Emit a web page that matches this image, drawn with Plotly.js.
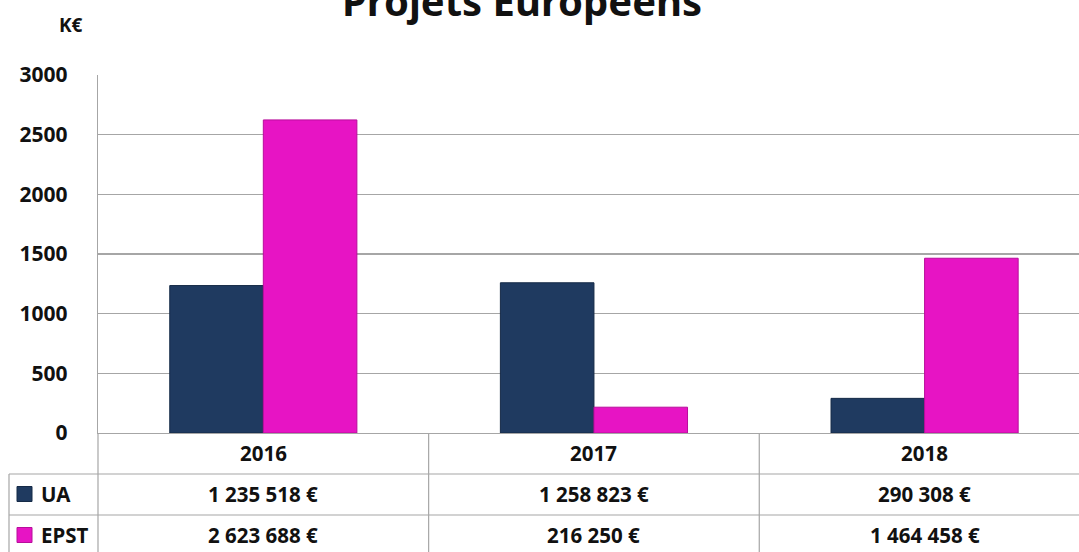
<!DOCTYPE html>
<html>
<head>
<meta charset="utf-8">
<script src="https://cdn.plot.ly/plotly-3.0.1.min.js"></script>
<style>html,body{margin:0;padding:0;background:#fff;}#chart{width:1079px;height:552px;}</style>
</head>
<body>
<div id="chart"></div>
<script>
const categories = ["2016", "2017", "2018"];
const seriesNames = ["UA", "EPST"];
const uaEuros = [1235518, 1258823, 290308];
const epstEuros = [2623688, 216250, 1464458];
const yTicks = [0, 500, 1000, 1500, 2000, 2500, 3000];
const titleText = "Projets Européens";
const unitLabel = "K€";

const colors = ["#1f3a60", "#e714c4"];
const lineColors = ["#152a47", "#b80e9b"];
const FONT = "Noto Sans, Open Sans, sans-serif";
const gridCol = "#a6a6a6";
const TXT = 20.5;

// plot geometry (pixels)
const L = 98, R = 1079, T = 75, B = 433, W = 1079, H = 552;
const px2x = p => (p - L) / (R - L);
const py2y = p => (B - p) / (B - T);

function fmtEuro(v) {
  return String(v).replace(/\B(?=(\d{3})+(?!\d))/g, " ") + " €";
}

const allSeries = [uaEuros, epstEuros];
const traces = allSeries.map((vals, i) => ({
  type: "bar",
  name: seriesNames[i],
  x: categories,
  y: vals.map(v => v / 1000),
  marker: { color: colors[i], line: { color: lineColors[i], width: 1 } },
  hoverinfo: "skip"
}));

const shapes = [];
const annotations = [];
const lineStyle = { color: gridCol, width: 1.2 };

// table horizontal lines
[474, 515].forEach(py => shapes.push({
  type: "line", xref: "paper", yref: "paper",
  x0: px2x(9), x1: 1, y0: py2y(py), y1: py2y(py), line: lineStyle
}));
// table verticals
shapes.push({ type: "line", xref: "paper", yref: "paper", x0: px2x(9), x1: px2x(9), y0: py2y(474), y1: py2y(560), line: lineStyle });
shapes.push({ type: "line", xref: "paper", yref: "paper", x0: 0, x1: 0, y0: 0, y1: py2y(560), line: lineStyle });
for (let k = 0; k < categories.length - 1; k++) {
  shapes.push({ type: "line", xref: "x", yref: "paper", x0: k + 0.5, x1: k + 0.5, y0: 0, y1: py2y(560), line: lineStyle });
}

// header row (years)
categories.forEach((c, k) => annotations.push({
  xref: "x", yref: "paper", x: k, y: py2y(453), text: "<b>" + c + "</b>",
  showarrow: false, xanchor: "center", yanchor: "middle",
  font: { family: FONT, size: TXT, color: "#111" }
}));

// data rows
const rowCenters = [494, 535];
allSeries.forEach((vals, i) => {
  // legend key square
  shapes.push({
    type: "rect", xref: "paper", yref: "paper",
    x0: px2x(17), x1: px2x(32), y0: py2y(rowCenters[i] - 7.5), y1: py2y(rowCenters[i] + 7.5),
    fillcolor: colors[i], line: { color: lineColors[i], width: 1 }
  });
  annotations.push({
    xref: "paper", yref: "paper", x: px2x(39), y: py2y(rowCenters[i]),
    text: "<b>" + seriesNames[i] + "</b>", showarrow: false, xanchor: "left", yanchor: "middle",
    font: { family: FONT, size: TXT, color: "#111" }
  });
  vals.forEach((v, k) => annotations.push({
    xref: "x", yref: "paper", x: k, y: py2y(rowCenters[i]),
    text: "<b>" + fmtEuro(v) + "</b>", showarrow: false, xanchor: "center", yanchor: "middle",
    font: { family: FONT, size: TXT, color: "#111" }
  }));
});

// title and unit
annotations.push({
  xref: "paper", yref: "paper", x: px2x(522), y: py2y(1), text: "<b>" + titleText + "</b>",
  showarrow: false, xanchor: "center", yanchor: "middle",
  font: { family: FONT, size: 40, color: "#111" }
});
annotations.push({
  xref: "paper", yref: "paper", x: px2x(71), y: py2y(25), text: "<b>" + unitLabel + "</b>",
  showarrow: false, xanchor: "center", yanchor: "middle",
  font: { family: FONT, size: 19, color: "#111" }
});

const layout = {
  width: W, height: H,
  margin: { l: L, r: W - R, t: T, b: H - B, pad: 0 },
  paper_bgcolor: "#fff", plot_bgcolor: "#fff",
  showlegend: false,
  barmode: "group", bargap: 0.434, bargroupgap: 0,
  xaxis: {
    type: "category", range: [-0.5, 2.467], showticklabels: false,
    showgrid: false, showline: true, linecolor: gridCol, linewidth: 1.2,
    ticks: "", zeroline: false, fixedrange: true
  },
  yaxis: {
    range: [0, 3000], tickvals: yTicks, ticktext: yTicks.map(String),
    showgrid: true, gridcolor: gridCol, gridwidth: 1.2,
    showline: true, linecolor: gridCol, linewidth: 1.2, zeroline: false,
    ticks: "", ticklabelstandoff: 25,
    tickfont: { family: FONT, size: 21, color: "#111", weight: "bold" }, fixedrange: true
  },
  shapes: shapes,
  annotations: annotations
};

Plotly.newPlot("chart", traces, layout, { displayModeBar: false, staticPlot: true });
</script>
</body>
</html>
